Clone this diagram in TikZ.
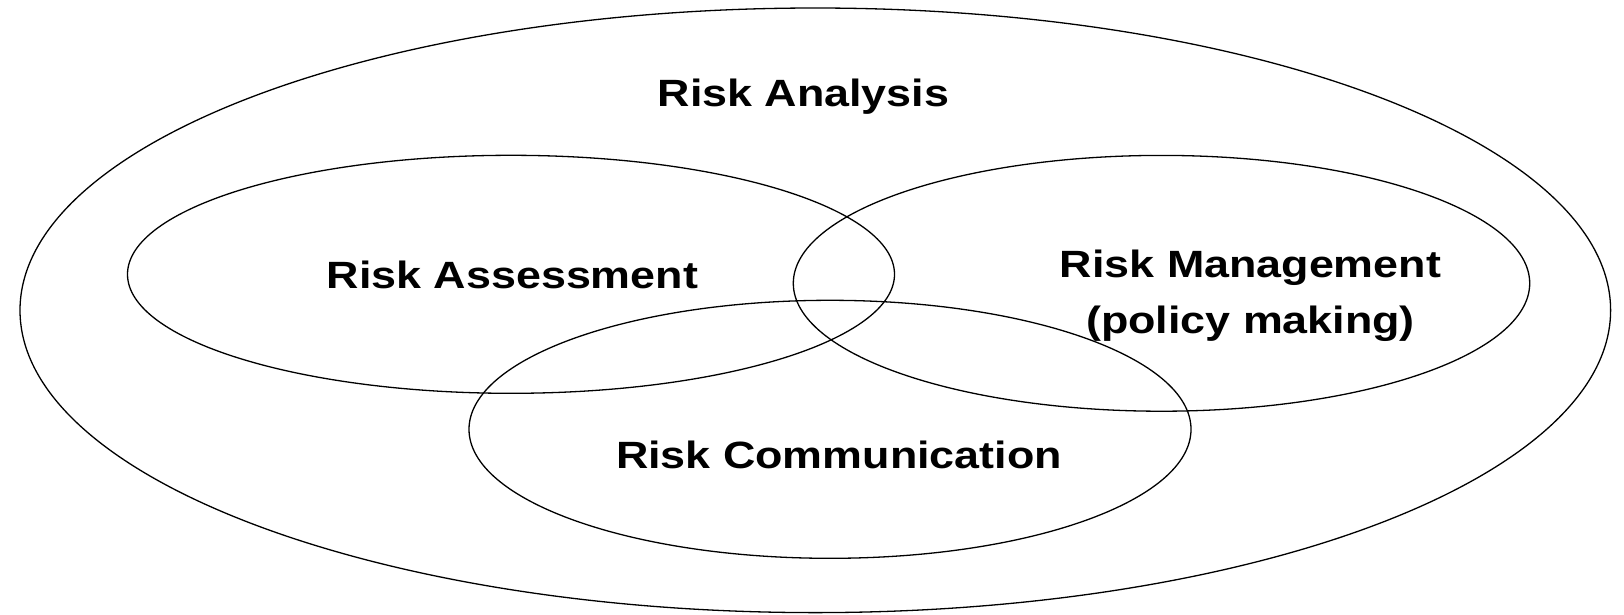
\documentclass[tikz,border=0pt]{standalone}
\usepackage{fontspec}
\newfontfamily\lblfont[FakeStretch=1.18]{Liberation Sans}
\begin{document}
\begin{tikzpicture}[x=1pt,y=-1pt,
  ring/.style={draw=black,line width=1.3pt},
  lbl/.style={font=\lblfont\bfseries\fontsize{38}{56}\selectfont,anchor=base,inner sep=0pt,align=center}]
\useasboundingbox (0,0) rectangle (1624,614);
\draw[ring] (815.3,310.3) ellipse [x radius=795.3, y radius=302.3];
\draw[ring] (511,274.3) ellipse [x radius=383.5, y radius=119];
\draw[ring] (1161.5,283.3) ellipse [x radius=368.2, y radius=127.9];
\draw[ring] (830,429.3) ellipse [x radius=361, y radius=129];
\node[lbl] (ana) at (803.5,106.5) {Risk Analysis};
\node[lbl] (ass) at (512.5,288.5) {Risk Assessment};
\node[lbl] (man) at (1250.5,277) {Risk Management};
\node[lbl] (pol) at (1250.5,333) {(policy making)};
\node[lbl] (com) at (839,468.5) {Risk Communication};
\end{tikzpicture}
\end{document}
